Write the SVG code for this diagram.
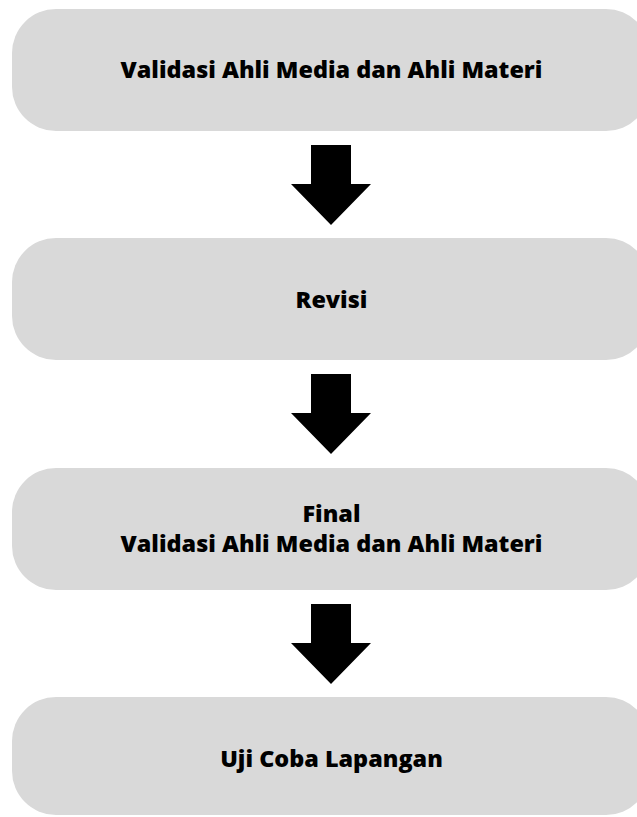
<svg xmlns="http://www.w3.org/2000/svg" width="637" height="817" viewBox="0 0 637 817">
<style>
.box{fill:#d9d9d9}
.lbl{font-family:"Open Sans","DejaVu Sans",sans-serif;font-weight:800;font-size:23.4px;fill:#000;text-anchor:middle}
.arr{fill:#000}
</style>
<defs>
<path id="arrow" class="arr" d="M-20,0 H20 V39 H40 L0,80 L-40,39 H-20 Z"/>
</defs>
<rect width="637" height="817" fill="#fff"/>
<g id="node1">
<rect class="box" x="12" y="9" width="638" height="122" rx="44"/>
<text class="lbl" x="331.5" y="78">Validasi Ahli Media dan Ahli Materi</text>
</g>
<g id="node2">
<rect class="box" x="12" y="238" width="638" height="122" rx="44"/>
<text class="lbl" x="331.5" y="308">Revisi</text>
</g>
<g id="node3">
<rect class="box" x="12" y="468" width="638" height="122" rx="44"/>
<text class="lbl" x="331.5" y="522">Final</text>
<text class="lbl" x="331.5" y="552">Validasi Ahli Media dan Ahli Materi</text>
</g>
<g id="node4">
<rect class="box" x="12" y="697" width="638" height="118" rx="44"/>
<text class="lbl" x="331.5" y="767">Uji Coba Lapangan</text>
</g>
<g id="connectors">
<use href="#arrow" x="331" y="145"/>
<use href="#arrow" x="331" y="374"/>
<use href="#arrow" x="331" y="604"/>
</g>
</svg>
